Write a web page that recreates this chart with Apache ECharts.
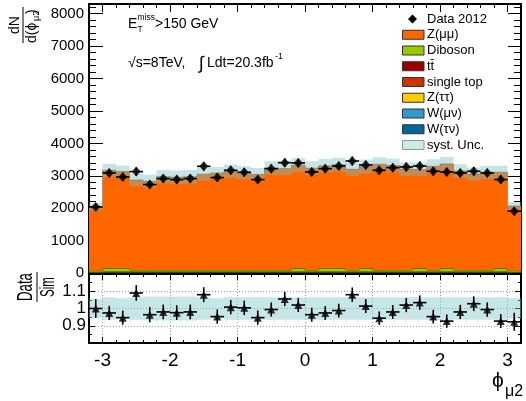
<!DOCTYPE html>
<html><head><meta charset="utf-8">
<script src="https://cdn.jsdelivr.net/npm/echarts@6/dist/echarts.min.js"></script>
<style>html,body{margin:0;padding:0;background:#fff}#c{width:526px;height:401px}</style>
</head><body><div id="c"></div>
<script>
// ---------------- data ----------------
const edges = [-3.2,-3.0,-2.8,-2.6,-2.4,-2.2,-2.0,-1.8,-1.6,-1.4,-1.2,-1.0,-0.8,-0.6,-0.4,-0.2,0,0.2,0.4,0.6,0.8,1.0,1.2,1.4,1.6,1.8,2.0,2.2,2.4,2.6,2.8,3.0,3.2];
const dataVals = [2040,3086,2963,3128,2728,2913,2882,2913,3292,2944,3169,3108,2882,3220,3405,3395,3118,3220,3302,3456,3333,3169,3251,3272,3302,3138,3118,3087,3138,3087,2882,1908];
const dataErr  = [110,130,128,130,124,127,126,127,132,128,131,130,126,132,134,134,131,132,133,135,133,131,132,132,133,131,131,130,131,130,126,108];
const zmumu    = [1967,3025,2986,2777,2737,2879,2860,2879,2955,2996,3051,3003,2950,3146,3134,3185,3141,3163,3199,3107,3144,3264,3224,3115,3050,3200,3221,3057,2960,3013,2966,1994];
const diboson  = [50,110,110,60,60,60,60,60,60,60,60,60,60,60,60,110,60,110,110,60,110,60,60,60,110,60,110,60,60,60,110,50];
const ttbar    = [8,12,12,12,12,12,12,12,12,12,12,12,12,12,12,12,12,12,12,12,12,12,12,12,12,12,12,12,12,12,12,8];
const singletop= [3,4,4,4,4,4,4,4,4,4,4,4,4,4,4,4,4,4,4,4,4,4,4,4,4,4,4,4,4,4,4,3];
const ztautau  = [2,3,3,3,3,3,3,3,3,3,3,3,3,3,3,3,3,3,3,3,3,3,3,3,3,3,3,3,3,3,3,2];
const wmunu    = [7,10,10,10,10,10,10,10,10,10,10,10,10,10,10,10,10,10,10,10,10,10,10,10,10,10,10,10,10,10,10,7];
const wtaunu   = [3,4,4,4,4,4,4,4,4,4,4,4,4,4,4,4,4,4,4,4,4,4,4,4,4,4,4,4,4,4,4,3];
const systRel  = [0.055,0.065,0.06,0.065,0.07,0.07,0.07,0.07,0.065,0.06,0.065,0.065,0.065,0.065,0.065,0.065,0.065,0.065,0.065,0.065,0.065,0.065,0.065,0.065,0.065,0.065,0.065,0.065,0.065,0.065,0.065,0.06];
const xTickLabels = [-3,-2,-1,0,1,2,3];
const yTickLabels = [0,1000,2000,3000,4000,5000,6000,7000,8000];
const rTicks = [0.8,0.9,1.0,1.1,1.2];
const rTickLabels = [0.9,1,1.1];
const legendNames = ['Data 2012','Z(μμ)','Diboson','tt̄','single top','Z(ττ)','W(μν)','W(τν)','syst. Unc.'];

// ---------------- build ----------------
const FONT = '"Liberation Sans", Arial, Helvetica, sans-serif';
const N = dataVals.length;
const comps = [
  {vals: wtaunu,   color:'#006699', stroke:null},
  {vals: wmunu,    color:'#3399cc', stroke:null},
  {vals: ztautau,  color:'#ffcc00', stroke:null},
  {vals: singletop,color:'#cc3300', stroke:null},
  {vals: ttbar,    color:'#990000', stroke:null},
  {vals: diboson,  color:'#99cc00', stroke:'#445500'},
  {vals: zmumu,    color:'#ff6600', stroke:null}
];
let cum = new Array(N).fill(0);
const layers = comps.map(c => {
  const lo = cum.slice();
  cum = cum.map((v,i) => v + c.vals[i]);
  return {lo, hi: cum.slice(), color: c.color, stroke: c.stroke};
});
const mcTot = cum;
const bandLo = mcTot.map((m,i) => m*(1-systRel[i]));
const bandHi = mcTot.map((m,i) => m*(1+systRel[i]));
const ratio = dataVals.map((d,i) => d/mcTot[i]);
const ratioErr = dataErr.map((e,i) => e/mcTot[i]);
const rBandLo = systRel.map(r => 1-r);
const rBandHi = systRel.map(r => 1+r);
const centers = edges.slice(0,N).map((e,i) => (e+edges[i+1])/2);

function stepPoly(api, lo, hi) {
  const pts = [];
  for (let i=0;i<N;i++){ pts.push(api.coord([edges[i], hi[i]])); pts.push(api.coord([edges[i+1], hi[i]])); }
  for (let i=N-1;i>=0;i--){ pts.push(api.coord([edges[i+1], lo[i]])); pts.push(api.coord([edges[i], lo[i]])); }
  return pts;
}
function polySeries(xi, yi, lo, hi, style, z) {
  return {type:'custom', xAxisIndex:xi, yAxisIndex:yi, data:[[0,1]], z:z, silent:true, clip:false,
    renderItem:(p, api) => ({type:'polygon', shape:{points: stepPoly(api, lo, hi)}, style: style})};
}
function errSeries(xi, yi, vals, errs, z) {
  return {type:'custom', xAxisIndex:xi, yAxisIndex:yi, z:z, silent:true,
    dimensions:['x','y','e','lo','hi'], encode:{x:0,y:1},
    data: centers.map((c,i) => [c, vals[i], errs[i], edges[i], edges[i+1]]),
    renderItem:(p, api) => {
      const c=api.value(0), v=api.value(1), e=api.value(2), lo=api.value(3), hi=api.value(4);
      const a=api.coord([lo,v]), b=api.coord([hi,v]), t=api.coord([c,v+e]), d=api.coord([c,v-e]);
      return {type:'group', children:[
        {type:'line', shape:{x1:a[0],y1:a[1],x2:b[0],y2:b[1]}, style:{stroke:'#000',lineWidth:1.6}},
        {type:'line', shape:{x1:t[0],y1:t[1],x2:d[0],y2:d[1]}, style:{stroke:'#000',lineWidth:1.6}}
      ]};
    }};
}
function mcLine(api) {
  const pts=[];
  for (let i=0;i<N;i++){ pts.push(api.coord([edges[i], mcTot[i]])); pts.push(api.coord([edges[i+1], mcTot[i]])); }
  return pts;
}

function xAx(grid, pos, major, len, lineW, labels) {
  const a = {type:'value', gridIndex:grid, min:-3.2, max:3.2, position:pos,
    axisLine:{show: lineW>0, onZero:false, lineStyle:{color:'#000', width:lineW}},
    axisTick:{show:true, inside:true, length:len, lineStyle:{color:'#000', width:1}},
    axisLabel:{show:false}, splitLine:{show:false}, minorTick:{show:false}};
  if (major) { a.axisTick.customValues = xTickLabels; a.splitNumber = 6; }
  else { a.interval = 0.2; }
  if (labels) {
    a.axisLabel = {show:true, customValues: xTickLabels, color:'#000', fontSize:19, fontFamily:FONT, margin:8,
      formatter: v => String(Math.round(v))};
    a.splitLine = {show:true, lineStyle:{color:'#9a9a9a', type:[1,2], width:1}};
  }
  return a;
}
function yAx(grid, pos, min, max, ticks, minorInt, len, lineW, labelCfg, split) {
  const a = {type:'value', gridIndex:grid, min:min, max:max, position:pos,
    axisLine:{show: lineW>0, onZero:false, lineStyle:{color:'#000', width:lineW}},
    axisTick:{show:true, inside:true, length:len, lineStyle:{color:'#000', width:1}},
    axisLabel:{show:false}, splitLine:{show:false}, minorTick:{show:false}};
  if (ticks) { a.axisTick.customValues = ticks; } else { a.interval = minorInt; }
  if (labelCfg) a.axisLabel = labelCfg;
  if (split) { a.interval = split; a.splitLine = {show:true, lineStyle:{color:'#9a9a9a', type:[1,2], width:1}}; }
  return a;
}

const G0 = {left:89, top:4, width:432, height:269};
const G1 = {left:89, top:274, width:432, height:69};

const xAxes = [
  xAx(0,'bottom',true,8,2,false),
  xAx(0,'bottom',false,4,0,false),
  xAx(0,'top',true,8,2,false),
  xAx(0,'top',false,4,0,false),
  xAx(1,'bottom',true,6,2,true),
  xAx(1,'bottom',false,3,0,false),
  xAx(1,'top',true,6,2,false),
  xAx(1,'top',false,3,0,false)
];
const yAxes = [
  yAx(0,'left',0,8300,yTickLabels,null,14,2,{show:true, customValues:yTickLabels, color:'#000', fontSize:15, fontFamily:FONT, margin:5, formatter: v => String(v)}),
  yAx(0,'left',0,8300,null,200,7,0,null),
  yAx(0,'right',0,8300,yTickLabels,null,13,2,null),
  yAx(0,'right',0,8300,null,200,7,0,null),
  yAx(1,'left',0.8,1.2,rTicks,null,6,2,{show:true, customValues:rTickLabels, color:'#000', fontSize:17, fontFamily:FONT, margin:3, hideOverlap:false, formatter: v => String(+v.toFixed(2))}, 0.1),
  yAx(1,'left',0.8,1.2,null,0.05,3,0,null),
  yAx(1,'right',0.8,1.2,rTicks,null,6,2,null),
  yAx(1,'right',0.8,1.2,null,0.05,3,0,null)
];

const series = [];
layers.forEach(L => {
  const st = {fill: L.color};
  if (L.stroke) { st.stroke = L.stroke; st.lineWidth = 1; }
  series.push(polySeries(0,0,L.lo,L.hi,st,1));
});
series.push(polySeries(0,0,bandLo,bandHi,{fill:'rgba(120,190,195,0.42)'},3));
series.push({type:'custom', xAxisIndex:0, yAxisIndex:0, data:[[0,1]], z:3, silent:true,
  renderItem:(p,api)=>({type:'polyline', shape:{points: mcLine(api)}, style:{stroke:'rgba(90,110,110,0.5)', lineWidth:1, fill:null}})});
series.push(errSeries(0,0,dataVals,dataErr,5));
series.push({type:'scatter', xAxisIndex:0, yAxisIndex:0, symbol:'diamond', symbolSize:[9,10], z:6, silent:true,
  itemStyle:{color:'#000'}, data: centers.map((c,i)=>[c, dataVals[i]])});
// ratio panel
series.push(polySeries(4,4,rBandLo,rBandHi,{fill:'rgba(130,200,202,0.45)'},2));
series.push(errSeries(4,4,ratio,ratioErr,5));
series.push({type:'scatter', xAxisIndex:4, yAxisIndex:4, symbol:'triangle', symbolSize:[8,8], z:6, silent:true,
  itemStyle:{color:'#000'}, data: centers.map((c,i)=>[c, ratio[i]])});

// ---------------- text / legend graphics ----------------
const T = (x,y,text,size,align,valign,extra) => Object.assign({type:'text', x:x, y:y, silent:true,
  style:{text:text, fill:'#000', fontSize:size, fontFamily:FONT, align:align||'left', verticalAlign:valign||'middle'}}, extra||{});
const legendRows = [19,34.75,50.5,66.25,82,97.75,113.5,129.25,145];
const legendColors = [null,'#ff6600','#99cc00','#990000','#cc3300','#ffcc00','#3399cc','#006699','#cfe8e8'];
const gfx = [];
legendNames.forEach((nm,i) => {
  const y = legendRows[i];
  if (i===0) {
    gfx.push({type:'polygon', silent:true, shape:{points:[[412.5,y-4.5],[417,y],[412.5,y+4.5],[408,y]]}, style:{fill:'#000'}});
  } else {
    gfx.push({type:'rect', silent:true, shape:{x:402.5, y:y-4.5, width:21.5, height:9},
      style:{fill:legendColors[i], stroke: i===8 ? '#8a9a9a' : '#333', lineWidth:1}});
  }
  gfx.push(T(427, y, nm, 13));
});
// annotations
gfx.push(T(128,24,'E',14));
gfx.push(T(137.5,18,'miss',8.5));
gfx.push(T(137.5,30,'T',8.5));
gfx.push(T(155,24,'>150 GeV',14));
gfx.push(T(128,63,'√s=8TeV,',14));
gfx.push(T(199,64,'∫',18));
gfx.push(T(207,63,'Ldt=20.3fb',14));
gfx.push(T(275,57,'-1',9));
// x title
gfx.push(T(492,381,'ϕ',21));
gfx.push(T(505,392,'μ2',16));
// y title (main)
gfx.push({type:'group', x:23, y:25, rotation:Math.PI/2, children:[
  {type:'line', silent:true, shape:{x1:-18,y1:0,x2:18,y2:0}, style:{stroke:'#000', lineWidth:1}},
  T(0,-1,'dN',14,'center','bottom'),
  T(-18,2,'d(ϕ',14,'left','top'),
  T(4,9,'μ2',9,'left','top'),
  T(11,2,')',14,'left','top')
]});
// y title (ratio)
gfx.push({type:'group', x:37, y:287, rotation:Math.PI/2, children:[
  {type:'line', silent:true, shape:{x1:-15,y1:0,x2:15,y2:0}, style:{stroke:'#000', lineWidth:1}},
  {type:'group', scaleX:0.6, children:[T(0,0,'Data',22,'center','bottom')]},
  {type:'group', scaleX:0.55, children:[T(0,1,'Sim',21,'center','top')]}
]});

const chart = echarts.init(document.getElementById('c'), null, {renderer:'canvas'});
chart.setOption({
  animation:false,
  backgroundColor:'#fff',
  textStyle:{fontFamily:FONT},
  grid:[Object.assign({containLabel:false}, G0), Object.assign({containLabel:false}, G1)],
  xAxis:xAxes, yAxis:yAxes, series:series, graphic:gfx
});
</script></body></html>
